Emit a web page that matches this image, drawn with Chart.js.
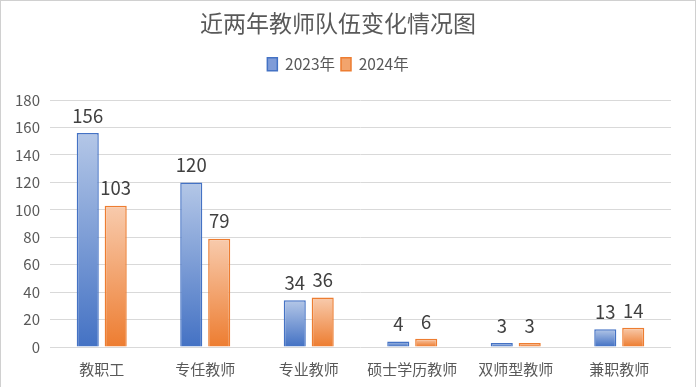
<!DOCTYPE html>
<html>
<head>
<meta charset="utf-8">
<script src="https://cdn.jsdelivr.net/npm/chart.js@4.4.1/dist/chart.umd.min.js"></script>
<style>
  body { margin: 0; background: #fff; }
  #wrap { width: 696px; height: 387px; box-sizing: border-box; border: 1px solid #d0d0d0; border-bottom: none; }
</style>
</head>
<body>
<div id="wrap"><canvas id="chart" width="694" height="386"></canvas></div>
<script>
const categories = ["教职工", "专任教师", "专业教师", "硕士学历教师", "双师型教师", "兼职教师"];
const data2023 = [156, 120, 34, 4, 3, 13];
const data2024 = [103, 79, 36, 6, 3, 14];
const yTicks = [0, 20, 40, 60, 80, 100, 120, 140, 160, 180];

const fontFamily = "'Noto Sans CJK SC', 'Noto Sans', sans-serif";
const gradColors = [["#b4c7e7", "#4472c4"], ["#f8cbad", "#ed7d31"]];

// per-bar vertical gradient, light at top, full colour at bottom
const barGradient = {
  id: "barGradient",
  beforeDatasetsDraw(chart) {
    const ctx = chart.ctx;
    chart.data.datasets.forEach((ds, i) => {
      chart.getDatasetMeta(i).data.forEach((bar) => {
        const g = ctx.createLinearGradient(0, bar.y, 0, bar.base);
        g.addColorStop(0, gradColors[i][0]);
        g.addColorStop(1, gradColors[i][1]);
        bar.options.backgroundColor = g;
      });
    });
  },
};

// draw value labels above each bar
const valueLabels = {
  id: "valueLabels",
  afterDatasetsDraw(chart) {
    const ctx = chart.ctx;
    ctx.save();
    ctx.font = "18.5px " + fontFamily;
    ctx.fillStyle = "#404040";
    ctx.textAlign = "center";
    ctx.textBaseline = "bottom";
    chart.data.datasets.forEach((ds, i) => {
      chart.getDatasetMeta(i).data.forEach((bar, j) => {
        ctx.fillText(ds.data[j], bar.x, bar.y - 8);
      });
    });
    ctx.restore();
  },
};

// extra room under the legend
const legendGap = {
  id: "legendGap",
  beforeInit(chart) {
    const fit = chart.legend.fit;
    chart.legend.fit = function () {
      fit.bind(this)();
      this.height += 18;
    };
  },
};

new Chart(document.getElementById("chart"), {
  type: "bar",
  data: {
    labels: categories,
    datasets: [
      {
        label: "2023年",
        data: data2023,
        // scriptable so every bar gets its own options object
        backgroundColor: () => "#7f9cd8",
        borderColor: "#4472c4",
        borderWidth: 1.5,
      },
      {
        label: "2024年",
        data: data2024,
        backgroundColor: () => "#f2a46d",
        borderColor: "#ed7d31",
        borderWidth: 1.5,
      },
    ],
  },
  options: {
    responsive: false,
    animation: false,
    layout: { padding: { left: 4, right: 24, top: 0, bottom: 4 } },
    categoryPercentage: 0.54,
    barPercentage: 0.79,
    plugins: {
      title: {
        display: true,
        text: "近两年教师队伍变化情况图",
        color: "#595959",
        font: { size: 23, family: fontFamily, weight: "normal" },
        padding: { top: 8, bottom: 14 },
      },
      legend: {
        labels: {
          color: "#595959",
          font: { size: 15.5, family: fontFamily },
          boxWidth: 10,
          boxHeight: 13,
          padding: 6,
        },
      },
      tooltip: { enabled: false },
    },
    scales: {
      x: {
        grid: { display: false },
        border: { display: false },
        ticks: { color: "#595959", font: { size: 15, family: fontFamily }, padding: 5 },
      },
      y: {
        min: 0,
        max: 180,
        afterBuildTicks: (axis) => { axis.ticks = yTicks.map((v) => ({ value: v })); },
        grid: { color: "#d9d9d9", drawTicks: false },
        border: { display: false },
        ticks: { color: "#595959", font: { size: 15, family: fontFamily }, padding: 10 },
      },
    },
  },
  plugins: [legendGap, barGradient, valueLabels],
});
</script>
</body>
</html>
